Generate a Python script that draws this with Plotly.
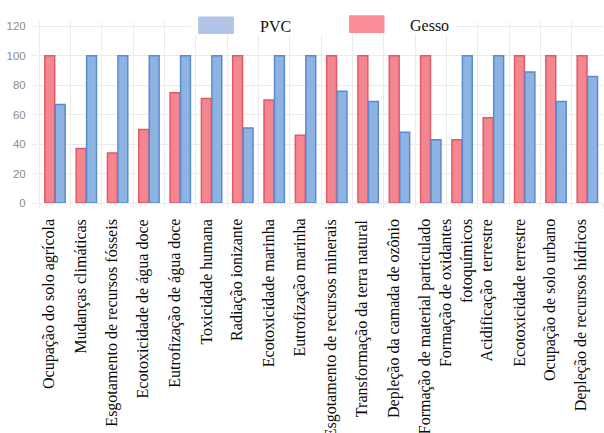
import plotly.graph_objects as go

# Impact categories (x axis)
categories = [
    "Ocupação do solo agrícola",
    "Mudanças climáticas",
    "Esgotamento de recursos fósseis",
    "Ecotoxicidade de água doce",
    "Eutrofização de água doce",
    "Toxicidade humana",
    "Radiação ionizante",
    "Ecotoxicidade marinha",
    "Eutrofização marinha",
    "Esgotamento de recursos minerais",
    "Transformação da terra natural",
    "Depleção da camada de ozônio",
    "Formação de material particulado",
    "Formação de oxidantes<br>fotoquímicos",
    "Acidificação  terrestre",
    "Ecotoxicidade terrestre",
    "Ocupação de solo urbano",
    "Depleção de recursos hídricos",
]

# Relative impact (%) per material
gesso = [100, 37, 34, 50, 75, 71, 100, 70, 46, 100, 100, 100, 100, 43, 58, 100, 100, 100]
pvc = [67, 100, 100, 100, 100, 100, 51, 100, 100, 76, 69, 48, 43, 100, 100, 89, 69, 86]

y_ticks = [0, 20, 40, 60, 80, 100, 120]

GESSO_FILL, GESSO_LINE, GESSO_KEY = "#F4868F", "#E05A66", "#F98C95"
PVC_FILL, PVC_LINE, PVC_KEY = "#8DB3E2", "#5A8BD0", "#AFC4E6"
GRID = "#EBEBEB"
SERIF = "Liberation Serif, Times New Roman, serif"

fig = go.Figure()
fig.add_trace(go.Bar(
    name="Gesso", x=categories, y=gesso,
    marker=dict(color=GESSO_FILL, line=dict(color=GESSO_LINE, width=1.5)),
    showlegend=False,
))
fig.add_trace(go.Bar(
    name="PVC", x=categories, y=pvc,
    marker=dict(color=PVC_FILL, line=dict(color=PVC_LINE, width=1.5)),
    showlegend=False,
))

# Category names, written vertically under each group of bars
for cat in categories:
    fig.add_annotation(
        text=cat, x=cat, xref="x", y=0, yref="paper",
        xanchor="center", yanchor="top", textangle=-90, align="right",
        xshift=-6, yshift=-14, showarrow=False,
        font=dict(family=SERIF, size=16, color="#0A0A0A"),
    )

# Legend drawn as large colour keys with serif labels
legend_items = [
    ("PVC", PVC_KEY, 0.2835, 0.3467, 0.934, 1.031, 0.3891, 0.9725),
    ("Gesso", GESSO_KEY, 0.5506, 0.6132, 0.9395, 1.037, 0.6544, 0.978),
]
# white band behind the legend keys
fig.add_shape(type="rect", xref="paper", yref="paper",
              x0=0.27, x1=0.74, y0=0.928, y1=1.0,
              fillcolor="white", line=dict(width=0), layer="above")
for label, color, x0, x1, y0, y1, tx, ty in legend_items:
    fig.add_shape(type="rect", xref="paper", yref="paper",
                  x0=x0, x1=x1, y0=y0, y1=y1,
                  fillcolor=color, line=dict(width=0), layer="above")
    fig.add_annotation(text=label, xref="paper", yref="paper", x=tx, y=ty,
                       xanchor="left", yanchor="middle", showarrow=False,
                       font=dict(family=SERIF, size=16, color="#111111"))

fig.update_layout(
    width=604, height=433,
    margin=dict(l=38, r=1, t=22, b=230),
    paper_bgcolor="white", plot_bgcolor="white",
    barmode="group", bargap=0.33, bargroupgap=0.06,
)
fig.update_xaxes(
    type="category", tickson="boundaries",
    showgrid=True, gridcolor=GRID, gridwidth=1,
    ticks="outside", ticklen=5, tickcolor=GRID,
    showticklabels=False,
    showline=False, zeroline=False,
)
fig.update_yaxes(
    range=[0, 123], tickvals=y_ticks,
    showgrid=True, gridcolor=GRID, gridwidth=1,
    zeroline=True, zerolinecolor=GRID, zerolinewidth=1,
    ticks="outside", ticklen=5, tickcolor=GRID, ticklabelstandoff=4,
    tickfont=dict(family="Liberation Sans, Arial, sans-serif", size=11.5, color="#8C8C8C"),
    showline=False,
)

fig.write_html("out.html")
